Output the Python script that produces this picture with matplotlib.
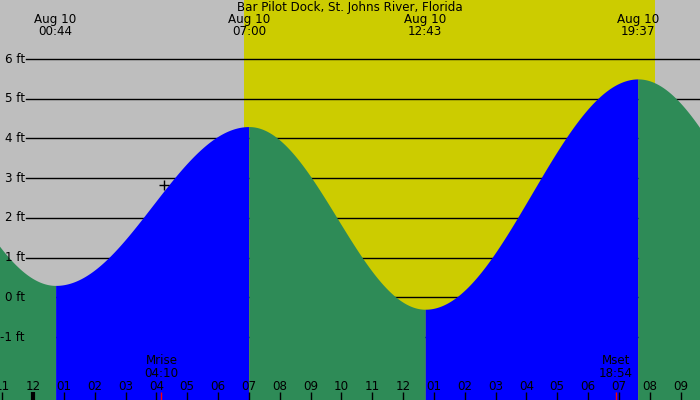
import numpy as np
import matplotlib
matplotlib.use("Agg")
import matplotlib.pyplot as plt
from matplotlib.transforms import blended_transform_factory

plt.rcParams['font.family'] = ['DejaVu Sans']

# ---- data ----
title = "Bar Pilot Dock, St. Johns River, Florida"
extreme_hours = [-5.47, 0.733, 7.0, 12.717, 19.617, 25.82]   # hours from midnight Aug 10
extreme_heights = [5.3, 0.3, 4.3, -0.3, 5.5, 0.3]            # ft
extreme_dates = ["", "Aug 10", "Aug 10", "Aug 10", "Aug 10", ""]
extreme_times = ["", "00:44", "07:00", "12:43", "19:37", ""]
sunrise = 6.84
sunset = 20.18
moonrise = 4.167
moonset = 18.9
moon_labels = [("Mrise", "04:10"), ("Mset", "18:54")]
marker_hour = 4.25
marker_height = 2.83
ft_ticks = [-1, 0, 1, 2, 3, 4, 5, 6]
hour_ticks = list(range(-1, 22))

# ---- colours ----
c_night = "#bebebe"
c_day = "#cccc00"
c_rise = "#0000ff"
c_fall = "#2e8b57"

W, H = 700, 400
xmin, xmax = -1.07, 21.63
ymin, ymax = -2.586, 7.487
FS = 8.6

fig = plt.figure(figsize=(7, 4), dpi=100)
ax = fig.add_axes([0, 0, 1, 1])
ax.set_xlim(xmin, xmax)
ax.set_ylim(ymin, ymax)
ax.axis('off')

def py(p):  # pixel-from-top -> axes fraction
    return 1 - p / H

tx = blended_transform_factory(ax.transData, ax.transAxes)
ta = ax.transAxes

# background night/day
ax.axvspan(xmin, sunrise, color=c_night, zorder=0, lw=0)
ax.axvspan(sunrise, sunset, color=c_day, zorder=0, lw=0)
ax.axvspan(sunset, xmax, color=c_night, zorder=0, lw=0)

# grid lines
for f in ft_ticks:
    ax.axhline(f, xmin=26 / W, xmax=1, color='black', lw=1.0, zorder=1)

# tide curve (cosine interpolation between extremes)
for i in range(len(extreme_hours) - 1):
    t0, t1 = extreme_hours[i], extreme_hours[i + 1]
    h0, h1 = extreme_heights[i], extreme_heights[i + 1]
    t = np.linspace(t0, t1, 400)
    h = h0 + (h1 - h0) * (1 - np.cos(np.pi * (t - t0) / (t1 - t0))) / 2
    col = c_rise if h1 > h0 else c_fall
    ax.fill_between(t, ymin - 1, h, color=col, lw=0, zorder=2)

# y labels
for f in ft_ticks:
    ax.text(-0.27, f, f"{f} ft", ha='right', va='center', fontsize=FS, zorder=5)

# marker
ax.plot([marker_hour], [marker_height], marker='+', color='black', ms=7, mew=1.0, zorder=5)

# title
ax.text(0.5, py(7), title, transform=ta, ha='center', va='center', fontsize=FS, zorder=6)

# extreme labels
for t, d, s in zip(extreme_hours, extreme_dates, extreme_times):
    if d and xmin < t < xmax:
        ax.text(t, py(19), d, transform=tx, ha='center', va='center', fontsize=FS, zorder=6)
        ax.text(t, py(31.5), s, transform=tx, ha='center', va='center', fontsize=FS, zorder=6)

# hour ticks and labels
for hr in hour_ticks:
    lab = f"{(hr % 12) if (hr % 12) else 12:02d}"
    lw = 3 if hr % 24 == 0 else 1
    ax.plot([hr, hr], [0, 8 / H], transform=tx, color='black', lw=lw, zorder=6,
            solid_capstyle='butt')
    ax.text(hr, py(386), lab, transform=tx, ha='center', va='center', fontsize=FS, zorder=6)

# moon markers
for t, (a, b) in zip([moonrise, moonset], moon_labels):
    ax.plot([t, t], [0, 8 / H], transform=tx, color='red', lw=1, zorder=7,
            solid_capstyle='butt')
    ax.text(t, py(361), a, transform=tx, ha='center', va='center', fontsize=FS, zorder=6)
    ax.text(t, py(373.5), b, transform=tx, ha='center', va='center', fontsize=FS, zorder=6)

fig.savefig("out.png", dpi=100)
